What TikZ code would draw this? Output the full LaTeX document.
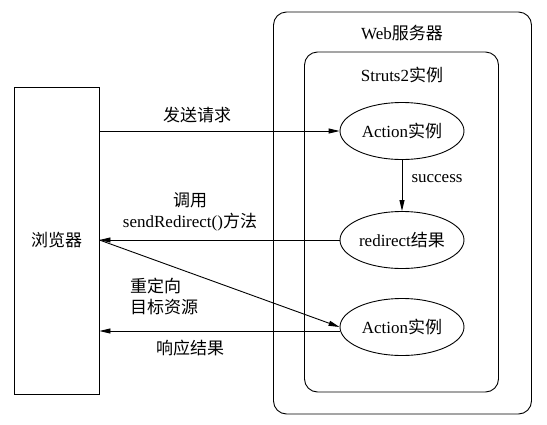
\documentclass[tikz,border=0pt]{standalone}
\usepackage{fontspec}
\setmainfont{Liberation Serif}
\newfontfamily\cjk{Noto Sans CJK SC}
\usetikzlibrary{arrows.meta,shapes.geometric}
\begin{document}
\begin{tikzpicture}[x=1pt,y=-1pt,
  every node/.style={font=\fontsize{17}{21}\selectfont},
  box/.style={draw,line width=0.9pt,rounded corners=13pt},
  ell/.style={draw,line width=0.9pt,ellipse,minimum width=124pt,minimum height=57pt,inner sep=0pt},
  conn/.style={line width=0.9pt},
  arr/.style={conn,-{Triangle[length=11pt,width=5pt]}},
  lbl/.style={inner sep=0pt}]
\useasboundingbox (0,0) rectangle (547,424);
\node[draw,line width=0.9pt,minimum width=85pt,minimum height=307pt,inner sep=0pt] (browser) at (56.5,240.5) {{\cjk 浏览器}};
\node[box,minimum width=258pt,minimum height=402pt,inner sep=0pt] (web) at (402.5,213) {};
\node[box,minimum width=194pt,minimum height=340pt,inner sep=0pt] (struts) at (401.5,222) {};
\node[lbl] (webt) at (402,33) {Web{\cjk 服务器}};
\node[lbl] (strutst) at (402,75) {Struts2{\cjk 实例}};
\node[ell] (a1) at (402,131) {Action{\cjk 实例}};
\node[ell] (r) at (402,240) {redirect{\cjk 结果}};
\node[ell] (a2) at (402,327) {Action{\cjk 实例}};
\draw[arr] (a1.west -| browser.east) -- (a1.west);
\draw[arr] (a1.south) -- (r.north);
\draw[arr] (r.west) -- (r.west -| browser.east);
\draw[arr] (r.west -| browser.east) -- (a2.west);
\draw[arr] ([yshift=-4pt]a2.west) -- ([yshift=-4pt]a2.west -| browser.east);
\node[lbl] (l1) at (197,115) {{\cjk 发送请求}};
\node[lbl] (l2) at (437,179) {success};
\node[lbl,align=center] (l3) at (190,212) {{\cjk 调用}\\sendRedirect(){\cjk 方法}};
\node[lbl,align=left,anchor=west] (l4) at (130,296) {{\cjk 重定向}\\{\cjk 目标资源}};
\node[lbl] (l5) at (190,348) {{\cjk 响应结果}};
\end{tikzpicture}
\end{document}
